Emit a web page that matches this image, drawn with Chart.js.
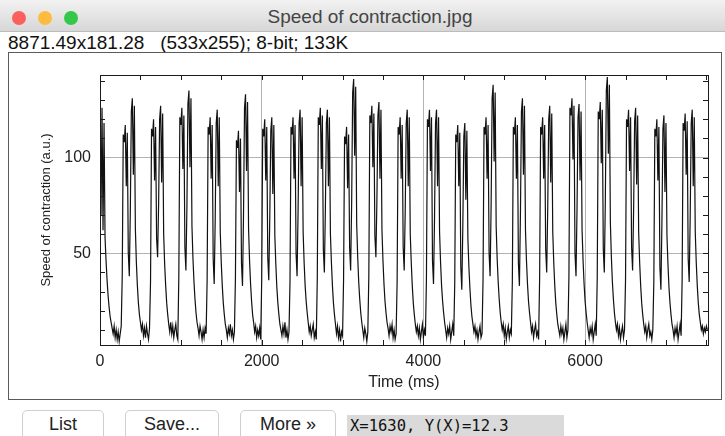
<!DOCTYPE html>
<html>
<head>
<meta charset="utf-8">
<title>Speed of contraction.jpg</title>
<script src="https://cdn.jsdelivr.net/npm/chart.js@4.4.1/dist/chart.umd.min.js"></script>
<style>
  html, body { margin: 0; padding: 0; background: #fff; }
  body { width: 725px; height: 436px; position: relative; overflow: hidden; font-family: "Liberation Sans", Arial, sans-serif; color: #222; }
  #titlebar { position: absolute; left: 0; top: 0; width: 725px; height: 31px; background: linear-gradient(#f2f2f2, #d7d7d7); border-bottom: 1px solid #bcbcbc; }
  .light { position: absolute; top: 11px; width: 14px; height: 14px; border-radius: 50%; }
  #wintitle { position: absolute; left: 0; top: 6px; width: 740px; text-align: center; font-size: 19px; color: #444; }
  #info { position: absolute; left: 8px; top: 32px; font-size: 19px; white-space: pre; color: #111; }
  #panel { position: absolute; left: 8px; top: 52px; width: 712px; height: 346px; border: 1px solid #5a5a5a; }
  .btn { position: absolute; top: 410px; height: 32px; background: #fff; border: 1px solid #cfcfcf; border-radius: 5px; font-size: 18px; text-align: center; line-height: 27px; color: #222; box-sizing: border-box; }
  #coords { position: absolute; left: 347px; top: 415px; width: 217px; height: 25px; background: #dadada; font-family: "DejaVu Sans Mono", monospace; font-size: 15.5px; line-height: 23px; padding-left: 3px; box-sizing: border-box; color: #111; }
</style>
</head>
<body>
<div id="titlebar">
  <div class="light" style="left:12px;background:#fc605c"></div>
  <div class="light" style="left:38px;background:#fdbc40"></div>
  <div class="light" style="left:64px;background:#34c84a"></div>
  <div id="wintitle">Speed of contraction.jpg</div>
</div>
<div id="info">8871.49x181.28   (533x255); 8-bit; 133K</div>
<div id="panel"><canvas id="plot" width="712" height="346"></canvas></div>
<div class="btn" style="left:22px;width:82px">List</div>
<div class="btn" style="left:125px;width:94px">Save...</div>
<div class="btn" style="left:240px;width:96px">More »</div>
<div id="coords">X=1630, Y(X)=12.3</div>
<script>
// sampling interval of the trace (ms)
const timeStep = 12.5;

// speed of contraction (a.u.), one value per sample, split every 2000 ms
const speed0 = [122,70,126,62,118,58,46,36,28,22,17,14,11,8,12,6,10,5,9,4,8,12,
  38,112,108,117,85,113,50,38,72,124,131,91,127,63,45,33,24,18,14, 10,13,7,11,6,12,8,5,11,
  35,115,111,120,88,116,58,48,76,120,127,87,123,60,44,33,24,18,13, 9,14,8,12,6,10,13,7,5,
  38,121,117,126,94,122,53,41,74,128,135,95,131,64,47,35,26,19,14, 11,7,12,9,5,10,6,11,8,
  36,116,112,121,89,117,47,34,68,118,125,85,121,61,45,33,24,18,13, 10,6,11,8,13,7,10,5,9,
  37,109,105,114,82,110,45,33,70,126,133,93,129,63,46,34,25,18,14, 9,12,6,10,7,11,5];
const speed2000 = [36,115,111,120,88,116,48,36,69,114,121,81,117,59,44,32,24,18,13, 10,7,12,8,14,6,10,5,9,
  35,116,112,121,89,117,50,38,72,118,125,85,121,61,45,33,25,19,14, 9,12,7,10,13,6,9,5,
  37,121,117,126,94,122,52,40,73,118,125,85,121,60,45,33,24,18,13, 8,12,6,10,4,9,7,
  36,111,107,116,84,112,53,41,76,134,141,101,137,65,48,35,26,19,14, 10,6,11,8,4,9,
  38,122,118,127,95,123,59,48,78,122,129,89,125,62,46,34,25,19,14, 11,7,12,9,13,6,10,5,8,
  35,116,112,121,89,117,53,41,72,118,125,85,121,60,45,33,24,18,13, 9,12,7,11,5,9,13];
const speed4000 = [6,10,7,
  37,120,116,125,93,121,46,34,68,118,125,85,121,61,45,33,25,19,14, 10,6,11,8,12,5,9,13,7,
  34,112,108,117,85,113,43,31,64,111,118,78,114,58,43,32,23,17,13, 9,12,7,10,5,9,12,6,8,
  36,116,112,121,89,117,50,38,75,131,138,98,134,64,47,35,26,19,14, 10,13,7,11,5,9,12,6,10,8,
  35,116,112,121,89,117,45,33,70,124,131,91,127,62,46,34,25,19,14, 9,12,6,10,13,7,9,5,
  37,116,112,121,89,117,52,40,73,120,127,87,123,61,45,33,24,18,13, 10,7,12,8,11,5,9,13,6,10,
  38,126,122,131,99,127,50,38,73,121,128,88,124,62,46,34];
const speed6000 = [25,19,14, 10,6,11,8,12,5,9,13,7,
  37,124,120,129,97,125,52,40,77,135,142,102,138,66,48,35,26,19,14, 10,13,7,11,5,9,12,6,10,
  36,120,116,125,93,121,53,41,73,119,126,86,122,61,45,33,24,18,13, 9,12,6,10,13,7,9,5,10,
  35,115,111,120,88,116,43,31,66,115,122,82,118,59,44,32,24,18,13, 10,6,11,8,12,5,9,13,7,
  36,118,114,123,91,119,47,35,70,118,125,85,121,61,45,33,24,18,14, 10,12,8,11,9,12,10];

const xTicks = [0,500,1000,1500,2000,2500,3000,3500,4000,4500,5000,5500,6000,6500,7000,7500];
const yTicks = [10,20,30,40,50,60,70,80,90,100,110,120,130,140];
const xLabels = [0, 2000, 4000, 6000];
const yLabels = [50, 100];
const xRange = [0, 7520];
const yRange = [2.14, 143.1];

const speed = speed0.concat(speed2000, speed4000, speed6000);
const points = speed.map((v, i) => ({ x: i * timeStep, y: v }));

Chart.defaults.font.family = '"Liberation Sans", Arial, sans-serif';
Chart.defaults.color = '#222';

const isIn = (list, v) => list.some(l => Math.abs(l - v) < 1e-6);

// plot frame plus the small inward ticks on all four sides
const frameTicks = {
  id: 'frameTicks',
  afterDraw(chart) {
    const { ctx, chartArea: a, scales } = chart;
    ctx.save();
    ctx.strokeStyle = '#1a1a1a';
    ctx.lineWidth = 1;
    ctx.beginPath();
    scales.x.ticks.forEach(t => {
      const px = Math.round(scales.x.getPixelForValue(t.value)) + 0.5;
      ctx.moveTo(px, a.bottom); ctx.lineTo(px, a.bottom - 5);
      ctx.moveTo(px, a.top); ctx.lineTo(px, a.top + 5);
    });
    scales.y.ticks.forEach(t => {
      const py = Math.round(scales.y.getPixelForValue(t.value)) + 0.5;
      ctx.moveTo(a.left, py); ctx.lineTo(a.left + 5, py);
      ctx.moveTo(a.right, py); ctx.lineTo(a.right - 5, py);
    });
    ctx.stroke();
    ctx.strokeRect(Math.round(a.left) + 0.5, Math.round(a.top) + 0.5,
      Math.round(a.right - a.left), Math.round(a.bottom - a.top));
    ctx.restore();
  }
};

new Chart(document.getElementById('plot').getContext('2d'), {
  type: 'line',
  data: {
    datasets: [{
      data: points,
      borderColor: '#111',
      borderWidth: 1.2,
      pointRadius: 0,
      tension: 0,
      fill: false
    }]
  },
  options: {
    responsive: false,
    animation: false,
    devicePixelRatio: 1,
    layout: { padding: { top: 22, right: 13, left: 0, bottom: 0 } },
    plugins: { legend: { display: false }, tooltip: { enabled: false } },
    scales: {
      x: {
        type: 'linear',
        min: xRange[0],
        max: xRange[1],
        afterBuildTicks: s => { s.ticks = xTicks.map(v => ({ value: v })); },
        afterFit: s => { s.height = 54; },
        border: { display: false },
        grid: {
          drawTicks: false,
          color: c => (c.tick && c.tick.value > 0 && isIn(xLabels, c.tick.value)) ? '#b3b3b3' : 'rgba(0,0,0,0)'
        },
        ticks: {
          autoSkip: false,
          maxRotation: 0,
          padding: 7,
          font: { size: 16 },
          callback: v => isIn(xLabels, v) ? String(v) : ''
        },
        title: { display: true, text: 'Time (ms)', font: { size: 16 }, padding: { top: 0, bottom: 7 } }
      },
      y: {
        min: yRange[0],
        max: yRange[1],
        afterBuildTicks: s => { s.ticks = yTicks.map(v => ({ value: v })); },
        afterFit: s => { s.width = 91; },
        border: { display: false },
        grid: {
          drawTicks: false,
          color: c => (c.tick && isIn(yLabels, c.tick.value)) ? '#b3b3b3' : 'rgba(0,0,0,0)'
        },
        ticks: {
          autoSkip: false,
          padding: 9,
          font: { size: 16 },
          callback: v => isIn(yLabels, v) ? String(v) : ''
        },
        title: { display: true, text: 'Speed of contraction (a.u.)', font: { size: 13 }, padding: { top: 30, bottom: 0 } }
      }
    }
  },
  plugins: [frameTicks]
});
</script>
</body>
</html>
